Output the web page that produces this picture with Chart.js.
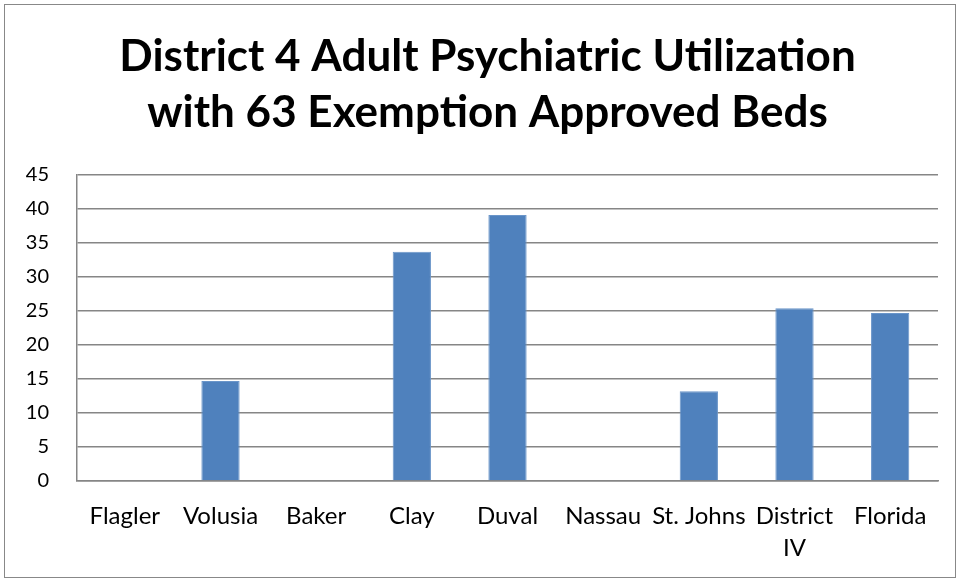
<!DOCTYPE html>
<html>
<head>
<meta charset="utf-8">
<script src="https://cdn.jsdelivr.net/npm/chart.js@4"></script>
<style>
  body { margin: 0; background: #fff; }
  #frame { position: absolute; left: 4px; top: 4px; width: 950px; height: 572px; border: 1px solid #888; }
  canvas { display: block; }
</style>
</head>
<body>
<div id="frame"><canvas id="myChart" width="950" height="572"></canvas></div>
<script>
const counties = ["Flagler", "Volusia", "Baker", "Clay", "Duval", "Nassau", "St. Johns", ["District", "IV"], "Florida"];
const utilization = [0, 14.7, 0, 33.7, 39.1, 0, 13.2, 25.4, 24.7];
const yTicks = [0, 5, 10, 15, 20, 25, 30, 35, 40, 45];

const ctx = document.getElementById('myChart').getContext("2d");

const data = {
    labels: counties,
    datasets: [
        {
            data: utilization,
            backgroundColor: "#4F81BD",
            borderColor: "#6a95c9",
            borderWidth: 1,
            barPercentage: 0.4,
            categoryPercentage: 1,
        },
    ],
};

const config = {
    type: "bar",
    data: data,
    options: {
        responsive: false,
        animation: false,
        // left padding pushes the title centre right, like the original
        layout: { padding: { left: 32, right: 17, top: 0, bottom: 0 } },
        plugins: {
            legend: { display: false },
            tooltip: { enabled: false },
            title: {
                display: true,
                text: ["District 4 Adult Psychiatric Utilization", "with 63 Exemption Approved Beds"],
                color: "#000",
                font: { family: "Lato", size: 44, weight: "bold", lineHeight: 56 / 44 },
                padding: { top: 24, bottom: 34 },
            },
        },
        scales: {
            y: {
                min: 0,
                max: 45,
                afterBuildTicks: (axis) => {
                    axis.ticks = yTicks.map(v => ({ value: v }));
                },
                afterFit: (axis) => {
                    axis.width = 40;
                    // labels sit in the padding, so don't clip them to the axis box
                    axis._computeLabelArea = () => undefined;
                },
                grid: { color: "#868686", lineWidth: 1.5, drawTicks: false },
                border: { color: "#868686", width: 1.5 },
                ticks: {
                    color: "#000",
                    padding: 28,
                    font: { family: "Lato", size: 20 },
                },
            },
            x: {
                afterFit: (axis) => { axis.height = 96; },
                grid: { display: false, drawTicks: false },
                border: { color: "#868686", width: 1.5 },
                ticks: {
                    color: "#000",
                    padding: 19,
                    maxRotation: 0,
                    autoSkip: false,
                    font: { family: "Lato", size: 24, lineHeight: 32 / 24 },
                },
            },
        },
    },
};

const myChart = new Chart(ctx, config);
</script>
</body>
</html>
